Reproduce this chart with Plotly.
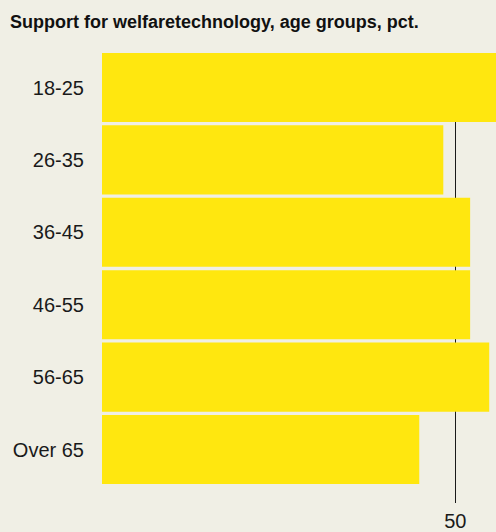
import plotly.graph_objects as go

categories = ["18-25", "26-35", "36-45", "46-55", "56-65", "Over 65"]
values = [57, 48.3, 52.1, 52.1, 54.8, 44.9]
x_ticks = [50]
x_tick_labels = ["50"]

bg = "#F0EFE5"
bar_color = "#FFE70F"

fig = go.Figure(go.Bar(
    y=categories, x=values, orientation="h",
    marker=dict(color=bar_color, line=dict(width=0)),
    hoverinfo="skip",
))

fig.update_layout(
    width=496, height=532,
    paper_bgcolor=bg, plot_bgcolor=bg,
    margin=dict(l=102, r=0, t=53, b=29),
    bargap=0.045,
    showlegend=False,
    font=dict(family="Liberation Sans, Arial, sans-serif", color="#1a1a1a", size=20),
    title=dict(
        text="<b>Support for welfaretechnology, age groups, pct.</b>",
        x=10/496, xref="container", xanchor="left",
        y=1 - 22/532, yref="container", yanchor="middle",
        font=dict(size=18, color="#111111"),
    ),
)

fig.update_xaxes(
    range=[0, 394/7.066],
    tickvals=x_ticks, ticktext=x_tick_labels,
    showgrid=True, gridcolor="#1a1a1a", gridwidth=1.3,
    zeroline=False, showline=False,
    ticks="", ticklabelstandoff=4,
    tickfont=dict(size=20),
    automargin=False,
    fixedrange=True,
)
fig.update_yaxes(
    categoryorder="array", categoryarray=categories,
    range=[5 + 53.5/72.4, -0.4765],
    showgrid=False, zeroline=False, showline=False,
    ticks="", ticklabelstandoff=17,
    tickfont=dict(size=20),
    automargin=False,
    fixedrange=True,
)

fig.write_html(
    "out.html",
    config={"displayModeBar": False},
    post_script="document.body.style.margin='0';document.body.style.overflow='hidden';",
)
